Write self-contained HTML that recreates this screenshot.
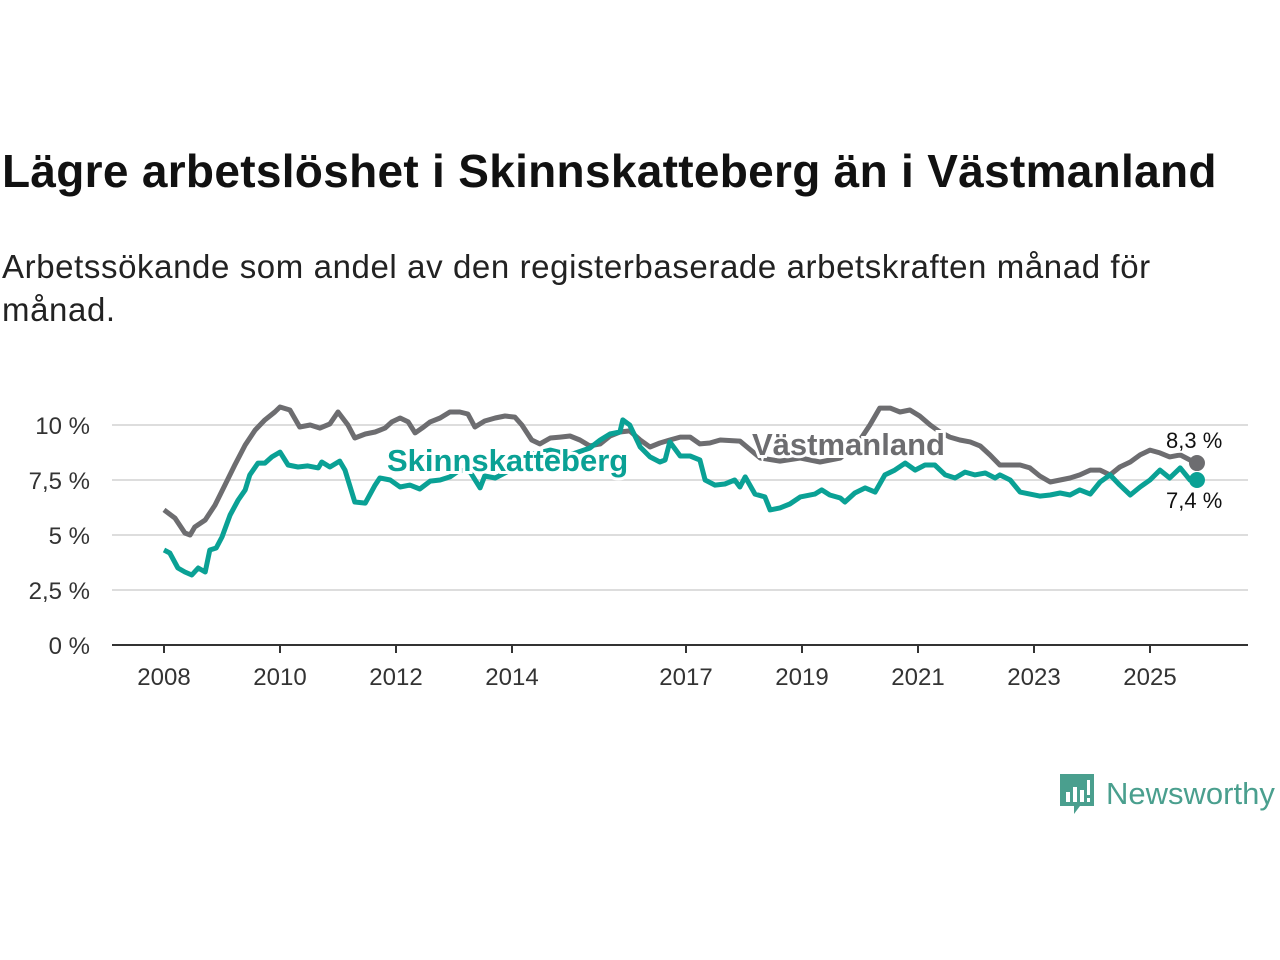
<!DOCTYPE html>
<html><head><meta charset="utf-8"><style>
body{margin:0;width:1280px;height:960px;background:#fff;font-family:"Liberation Sans",sans-serif;color:#111;position:relative;overflow:hidden}
h1{position:absolute;left:2px;top:144px;margin:0;font-size:46px;font-weight:bold;letter-spacing:0.3px;white-space:nowrap}
.sub{position:absolute;left:2px;top:245px;font-size:33px;letter-spacing:0.6px;line-height:43px;width:1200px;color:#222}
svg{position:absolute;left:0;top:0}
</style></head><body>
<h1>Lägre arbetslöshet i Skinnskatteberg än i Västmanland</h1>
<div class="sub">Arbetssökande som andel av den registerbaserade arbetskraften månad för månad.</div>
<svg id="chart" width="1280" height="960"></svg>
<div style="position:absolute;left:1060px;top:772px;display:flex;align-items:center">
<svg width="34" height="44" style="position:static"><path d="M0 2h34v32H20l-6 8v-8H0z" fill="#4a9f8e"/><rect x="6" y="20" width="4" height="10" fill="#fff"/><rect x="13" y="15" width="4" height="15" fill="#fff"/><rect x="20" y="18" width="4" height="12" fill="#fff"/><rect x="27" y="8" width="3" height="15" fill="#fff"/><rect x="27" y="26" width="3" height="4" fill="#fff"/></svg>
<span style="font-size:31px;color:#4a9f8e;margin-left:12px">Newsworthy</span></div>
<script>
const years=[2008,2010,2012,2014,2017,2019,2021,2023,2025];
const yTicks=[0,2.5,5,7.5,10];
const yTickLabels=["0 %","2,5 %","5 %","7,5 %","10 %"];
const vastDates=[2008.00,2008.19,2008.36,2008.45,2008.53,2008.71,2008.88,2009.05,2009.22,2009.40,2009.57,2009.74,2009.91,2010.00,2010.17,2010.34,2010.52,2010.69,2010.86,2011.00,2011.17,2011.29,2011.47,2011.64,2011.81,2011.93,2012.07,2012.21,2012.33,2012.45,2012.59,2012.76,2012.93,2013.10,2013.24,2013.36,2013.53,2013.71,2013.88,2014.05,2014.17,2014.34,2014.48,2014.66,2014.83,2015.00,2015.17,2015.34,2015.52,2015.69,2015.86,2016.03,2016.21,2016.38,2016.55,2016.72,2016.90,2017.07,2017.24,2017.41,2017.59,2017.93,2018.28,2018.62,2018.97,2019.31,2019.66,2020.00,2020.17,2020.34,2020.52,2020.69,2020.86,2021.03,2021.21,2021.38,2021.55,2021.72,2021.90,2022.07,2022.24,2022.41,2022.76,2022.93,2023.10,2023.28,2023.45,2023.62,2023.79,2023.97,2024.14,2024.31,2024.48,2024.66,2024.83,2025.00,2025.17,2025.34,2025.52,2025.69,2025.81];
const vastValues=[6.14,5.77,5.09,5.00,5.36,5.68,6.36,7.27,8.18,9.09,9.77,10.23,10.59,10.82,10.68,9.91,10.00,9.86,10.05,10.59,10.00,9.41,9.59,9.68,9.86,10.14,10.32,10.14,9.64,9.86,10.14,10.32,10.59,10.59,10.50,9.91,10.18,10.32,10.41,10.36,10.00,9.32,9.14,9.41,9.45,9.50,9.32,9.05,9.14,9.50,9.68,9.73,9.32,9.00,9.18,9.32,9.45,9.45,9.14,9.18,9.32,9.27,8.50,8.36,8.50,8.32,8.50,9.32,10.00,10.77,10.77,10.59,10.68,10.41,10.00,9.68,9.45,9.32,9.23,9.05,8.64,8.18,8.18,8.05,7.68,7.41,7.50,7.59,7.73,7.95,7.95,7.73,8.09,8.32,8.64,8.86,8.73,8.55,8.64,8.41,8.27];
const skinDates=[2008.00,2008.10,2008.24,2008.36,2008.48,2008.59,2008.71,2008.79,2008.90,2009.00,2009.14,2009.28,2009.40,2009.48,2009.62,2009.74,2009.86,2010.00,2010.14,2010.31,2010.48,2010.66,2010.72,2010.86,2011.03,2011.12,2011.29,2011.47,2011.64,2011.72,2011.90,2012.07,2012.24,2012.41,2012.59,2012.76,2012.93,2013.10,2013.28,2013.45,2013.53,2013.71,2013.97,2014.31,2014.66,2015.00,2015.34,2015.52,2015.69,2015.86,2015.91,2016.03,2016.21,2016.38,2016.55,2016.64,2016.72,2016.90,2017.07,2017.24,2017.33,2017.50,2017.67,2017.84,2017.93,2018.02,2018.19,2018.36,2018.45,2018.62,2018.79,2018.97,2019.22,2019.34,2019.48,2019.66,2019.74,2019.91,2020.09,2020.26,2020.43,2020.60,2020.78,2020.95,2021.12,2021.29,2021.47,2021.64,2021.81,2021.98,2022.16,2022.33,2022.41,2022.59,2022.76,2022.93,2023.10,2023.28,2023.45,2023.62,2023.79,2023.97,2024.14,2024.31,2024.48,2024.66,2024.83,2025.00,2025.17,2025.34,2025.52,2025.69,2025.81];
const skinValues=[4.32,4.18,3.50,3.32,3.18,3.50,3.32,4.32,4.41,4.91,5.91,6.59,7.05,7.73,8.27,8.27,8.55,8.77,8.18,8.09,8.14,8.05,8.32,8.09,8.36,7.95,6.50,6.45,7.27,7.59,7.50,7.18,7.27,7.09,7.45,7.50,7.64,7.95,7.86,7.14,7.68,7.59,7.95,8.64,8.86,8.64,8.95,9.32,9.59,9.68,10.23,10.00,9.00,8.55,8.32,8.41,9.23,8.59,8.59,8.41,7.50,7.27,7.32,7.50,7.18,7.64,6.86,6.73,6.14,6.23,6.41,6.73,6.86,7.05,6.82,6.68,6.50,6.91,7.14,6.95,7.73,7.95,8.27,7.95,8.18,8.18,7.73,7.59,7.86,7.73,7.82,7.59,7.73,7.50,6.95,6.86,6.77,6.82,6.91,6.82,7.05,6.86,7.41,7.73,7.27,6.82,7.18,7.50,7.95,7.59,8.05,7.50,7.50];
const NS="http://www.w3.org/2000/svg";
const svg=document.getElementById('chart');
const X=t=>164+(t-2008)*58;
const Y=v=>645-v*22;
function el(tag,attrs,parent){const e=document.createElementNS(NS,tag);for(const k in attrs)e.setAttribute(k,attrs[k]);(parent||svg).appendChild(e);return e;}
yTicks.forEach((v,i)=>{
  if(v>0){const g=el('line',{x1:112,x2:1248,y1:Y(v),y2:Y(v),stroke:'#ddd','stroke-width':2});
  
  }
  const t=el('text',{x:90,y:Y(v)+9,'text-anchor':'end','font-size':24,fill:'#333','font-family':'Liberation Sans, sans-serif'});
  t.textContent=yTickLabels[i];
  
  
});
const ax=el('line',{x1:112,x2:1248,y1:645,y2:645,stroke:'#333','stroke-width':2});


years.forEach(yr=>{
  const tk=el('line',{x1:X(yr),x2:X(yr),y1:645,y2:653,stroke:'#333','stroke-width':2});
  
  
  const t=el('text',{x:X(yr),y:685,'text-anchor':'middle','font-size':24,fill:'#333','font-family':'Liberation Sans, sans-serif'});
  t.textContent=yr;
  
  
});
function line(d,v,color,name){
  const p=el('path',{d:d.map((t,i)=>(i?'L':'M')+X(t).toFixed(1)+' '+Y(v[i]).toFixed(1)).join(''),fill:'none',stroke:color,'stroke-width':5,'stroke-linejoin':'round'});
  
  
  const c=el('circle',{cx:X(d[d.length-1]),cy:Y(v[v.length-1]),r:8,fill:color});
  
  
}
line(vastDates,vastValues,'#6d6d70','vastmanland-line');
line(skinDates,skinValues,'#0aa195','skinnskatteberg-line');
function label(x,y,txt,color,name,size,bold){
  const t=el('text',{x:x,y:y,'font-size':size,'font-weight':bold?'bold':'normal',fill:color,stroke:'#fff','stroke-width':bold?6:4,'paint-order':'stroke','font-family':'Liberation Sans, sans-serif'});
  t.textContent=txt;
  
  
}
label(387,471,'Skinnskatteberg','#0aa195','skinnskatteberg-label',31,true);
label(752,455,'Västmanland','#6d6d70','vastmanland-label',31,true);
label(1166,448,'8,3 %','#111','vastmanland-end-value',22,false);
label(1166,508,'7,4 %','#111','skinnskatteberg-end-value',22,false);
</script>
</body></html>
